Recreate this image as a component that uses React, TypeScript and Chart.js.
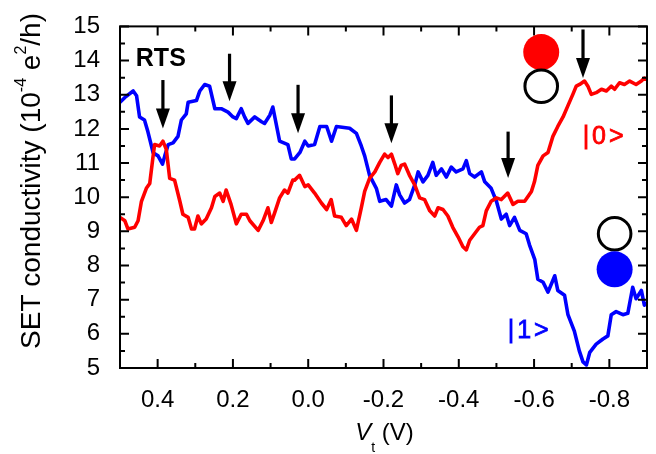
import React, { useEffect, useRef } from "react";
import { Chart, registerables } from "chart.js";

Chart.register(...registerables);

// ---------- data ----------
const blueX = [
  0.5, 0.487, 0.465, 0.456, 0.448, 0.435, 0.426, 0.412, 0.399, 0.387, 0.381, 0.372, 0.359, 0.346,
  0.337, 0.324, 0.319, 0.297, 0.288, 0.275, 0.262, 0.248, 0.231, 0.213, 0.2, 0.191, 0.178, 0.169,
  0.16, 0.142, 0.124, 0.116, 0.102, 0.094, 0.076, 0.054, 0.045, 0.036, 0.022, 0.009, 0.0, -0.017,
  -0.031, -0.049, -0.062, -0.075, -0.11, -0.128, -0.141, -0.15, -0.163, -0.181, -0.19, -0.207,
  -0.221, -0.234, -0.243, -0.256, -0.269, -0.283, -0.292, -0.305, -0.318, -0.331, -0.34, -0.354,
  -0.367, -0.38, -0.393, -0.411, -0.42, -0.429, -0.442, -0.46, -0.469, -0.486, -0.5, -0.513,
  -0.526, -0.535, -0.548, -0.562, -0.579, -0.588, -0.602, -0.61, -0.624, -0.637, -0.655, -0.663,
  -0.681, -0.69, -0.707, -0.72, -0.73, -0.739, -0.748, -0.765, -0.783, -0.796, -0.805, -0.818,
  -0.836, -0.849, -0.862, -0.871, -0.885, -0.893, -0.9,
];
const blueY = [
  12.78, 12.92, 13.11, 12.97, 12.35, 12.26, 11.92, 11.3, 11.21, 10.97, 11.21, 11.54, 11.59, 11.78,
  12.26, 12.44, 12.78, 12.83, 13.11, 13.3, 13.25, 12.59, 12.59, 12.49, 12.35, 12.3, 12.59, 12.35,
  12.16, 12.35, 12.21, 12.16, 12.4, 12.64, 11.64, 11.54, 11.12, 11.12, 11.31, 11.64, 11.5, 11.54,
  12.07, 12.07, 11.64, 12.07, 12.02, 11.87, 11.5, 11.21, 10.64, 10.26, 9.88, 9.93,
  9.74, 10.36, 10.07, 9.83, 9.93, 10.36, 10.74, 10.45, 10.64, 11.02, 10.64, 10.83,
  10.59, 10.88, 10.74, 10.83, 11.07, 10.69, 10.59, 10.74, 10.45, 10.26, 9.88, 9.36,
  9.5, 9.17, 9.41, 9.03, 8.93, 8.6, 8.17, 7.6, 7.51, 7.22, 7.7, 7.27,
  7.13, 6.56, 6.08, 5.51, 5.18, 5.09, 5.46, 5.7, 5.85, 5.94, 6.56, 6.65,
  6.56, 6.6, 7.36, 7.03, 7.27, 6.84, 6.9,
];
const redX = [
  0.5, 0.487, 0.479, 0.461, 0.452, 0.443, 0.43, 0.421, 0.412, 0.408, 0.395, 0.386, 0.377, 0.368,
  0.355, 0.341, 0.333, 0.319, 0.31, 0.302, 0.293, 0.284, 0.271, 0.257, 0.248, 0.235, 0.226, 0.218,
  0.205, 0.191, 0.178, 0.164, 0.155, 0.133, 0.12, 0.107, 0.098, 0.089, 0.076, 0.063, 0.054, 0.041,
  0.036, 0.023, 0.009, 0.0, -0.017, -0.035, -0.049, -0.061, -0.07, -0.088, -0.101, -0.115, -0.128,
  -0.141, -0.15, -0.163, -0.177, -0.19, -0.203, -0.212, -0.221, -0.23, -0.238, -0.247, -0.256,
  -0.269, -0.283, -0.296, -0.309, -0.323, -0.336, -0.345, -0.358, -0.371, -0.384, -0.398, -0.411,
  -0.42, -0.429, -0.442, -0.455, -0.464, -0.473, -0.486, -0.5, -0.513, -0.53, -0.544, -0.557,
  -0.575, -0.593, -0.601, -0.61, -0.624, -0.637, -0.65, -0.663, -0.677, -0.69, -0.703, -0.712,
  -0.721, -0.734, -0.743, -0.752, -0.765, -0.779, -0.792, -0.805, -0.814, -0.827, -0.84, -0.854,
  -0.871, -0.885, -0.893, -0.9,
];
const redY = [
  9.41, 9.31, 9.07, 9.12, 9.31, 9.88, 10.26, 10.4, 11.21, 11.54, 11.5, 11.64, 11.4, 10.55,
  10.5, 9.88, 9.5, 9.41, 9.07, 9.07, 9.45, 9.22, 9.36, 9.69, 10.02, 10.12, 9.88, 10.21,
  9.79, 9.22, 9.5, 9.5, 9.31, 9.03, 9.31, 9.69, 9.26, 9.55, 9.98, 10.21, 10.12, 10.5,
  10.5, 10.64, 10.31, 10.36, 10.12, 9.83, 9.64, 9.93, 9.45, 9.41, 9.17, 9.36, 9.03,
  9.69, 10.17, 10.55, 10.74, 11.02, 11.26, 11.16, 11.26, 10.97, 10.69, 10.93, 10.97,
  10.64, 10.36, 9.98, 9.93, 9.6, 9.45, 9.69, 9.64, 9.45, 9.12, 8.84, 8.55,
  8.46, 8.74, 8.93, 9.12, 9.17, 9.6, 9.88, 9.98, 9.93, 10.12, 9.79, 9.88,
  9.88, 10.17, 10.45, 10.93, 11.21, 11.31, 11.78, 12.07, 12.35, 12.68, 13.01, 13.25,
  13.3, 13.4, 13.25, 13.01, 13.06, 13.16, 13.11, 13.25, 13.16, 13.35, 13.3, 13.4,
  13.3, 13.4, 13.49, 13.45,
];

const xMajorTicks = [0.4, 0.2, 0.0, -0.2, -0.4, -0.6, -0.8];
const xMinorTicks = [0.3, 0.1, -0.1, -0.3, -0.5, -0.7];
const yMajorTicks = [5, 6, 7, 8, 9, 10, 11, 12, 13, 14, 15];
const yMinorTicks = [5.5, 6.5, 7.5, 8.5, 9.5, 10.5, 11.5, 12.5, 13.5, 14.5];

// arrows marking RTS positions (x, top of shaft, tip)
const arrowX = [0.386, 0.209, 0.027, -0.221, -0.531, -0.73];
const arrowTop = [13.43, 14.2, 13.29, 12.98, 11.92, 14.91];
const arrowTip = [12.01, 12.81, 11.87, 11.58, 10.56, 13.49];

const FONT = "'Liberation Sans', Arial, Helvetica, sans-serif";

const overlayPlugin = {
  id: "overlay",
  afterDraw(chart: any) {
    const { ctx, chartArea: a, scales } = chart;
    const xs = scales.x;
    const ys = scales.y;
    const X = (v: number) => xs.getPixelForValue(v);
    const Y = (v: number) => ys.getPixelForValue(v);
    ctx.save();

    // inside tick marks on all four sides
    ctx.strokeStyle = "#000";
    ctx.lineWidth = 2;
    const tickX = (vals: number[], len: number) => {
      vals.forEach((v) => {
        const p = X(v);
        ctx.beginPath();
        ctx.moveTo(p, a.bottom);
        ctx.lineTo(p, a.bottom - len);
        ctx.moveTo(p, a.top);
        ctx.lineTo(p, a.top + len);
        ctx.stroke();
      });
    };
    const tickY = (vals: number[], len: number) => {
      vals.forEach((v) => {
        const p = Y(v);
        ctx.beginPath();
        ctx.moveTo(a.left, p);
        ctx.lineTo(a.left + len, p);
        ctx.moveTo(a.right, p);
        ctx.lineTo(a.right - len, p);
        ctx.stroke();
      });
    };
    tickX(xMajorTicks, 9);
    tickX(xMinorTicks, 5);
    tickY(yMajorTicks, 9);
    tickY(yMinorTicks, 5);

    // frame
    ctx.strokeRect(a.left, a.top, a.right - a.left, a.bottom - a.top);

    // arrows
    ctx.fillStyle = "#000";
    arrowX.forEach((xv, i) => {
      const px = X(xv);
      const top = Y(arrowTop[i]);
      const tip = Y(arrowTip[i]);
      const head = 20;
      ctx.lineWidth = 3.2;
      ctx.beginPath();
      ctx.moveTo(px, top);
      ctx.lineTo(px, tip - head + 2);
      ctx.stroke();
      ctx.beginPath();
      ctx.moveTo(px - 7, tip - head);
      ctx.lineTo(px + 7, tip - head);
      ctx.lineTo(px, tip);
      ctx.closePath();
      ctx.fill();
    });

    // state circles
    const disc = (xv: number, yv: number, color: string) => {
      ctx.beginPath();
      ctx.arc(X(xv), Y(yv), 18, 0, Math.PI * 2);
      ctx.fillStyle = color;
      ctx.fill();
    };
    const ring = (xv: number, yv: number) => {
      ctx.beginPath();
      ctx.arc(X(xv), Y(yv), 16.3, 0, Math.PI * 2);
      ctx.lineWidth = 3;
      ctx.strokeStyle = "#000";
      ctx.stroke();
    };
    disc(-0.619, 14.25, "#ff0000");
    ring(-0.619, 13.25);
    ring(-0.814, 8.93);
    disc(-0.814, 7.89, "#0000ff");

    // labels
    ctx.textBaseline = "alphabetic";
    ctx.textAlign = "left";
    ctx.fillStyle = "#000";
    ctx.font = `bold 25px ${FONT}`;
    ctx.fillText("RTS", X(0.458), Y(13.83));
    ctx.font = `25px ${FONT}`;
    try {
      (ctx as any).letterSpacing = "3px";
    } catch (e) {}
    ctx.lineWidth = 0.8;
    ctx.fillStyle = "#ff0000";
    ctx.strokeStyle = "#ff0000";
    ctx.fillText("|0>", X(-0.729), Y(11.55));
    ctx.strokeText("|0>", X(-0.729), Y(11.55));
    ctx.fillStyle = "#0000ff";
    ctx.strokeStyle = "#0000ff";
    ctx.fillText("|1>", X(-0.53), Y(5.88));
    ctx.strokeText("|1>", X(-0.53), Y(5.88));
    try {
      (ctx as any).letterSpacing = "0px";
    } catch (e) {}

    // y axis title with superscripts
    ctx.fillStyle = "#000";
    const segs: [string, boolean][] = [
      ["SET conductivity (10", false],
      ["-4", true],
      [" e", false],
      ["2", true],
      ["/h)", false],
    ];
    const big = `28px ${FONT}`;
    const small = `16px ${FONT}`;
    let total = 0;
    segs.forEach(([t, sup]) => {
      ctx.font = sup ? small : big;
      total += ctx.measureText(t).width;
    });
    ctx.save();
    ctx.translate(40, 181);
    ctx.rotate(-Math.PI / 2);
    let cx = -total / 2;
    segs.forEach(([t, sup]) => {
      ctx.font = sup ? small : big;
      ctx.fillText(t, cx, sup ? -14 : 0);
      cx += ctx.measureText(t).width;
    });
    ctx.restore();

    // x axis title: V_t (V)
    const xsegs: [string, string, number][] = [
      ["V", `italic 24px ${FONT}`, 0],
      ["t", `14px ${FONT}`, 12],
      [" (V)", `24px ${FONT}`, 0],
    ];
    let xt = 0;
    xsegs.forEach(([t, f]) => {
      ctx.font = f;
      xt += ctx.measureText(t).width;
    });
    let sx = (a.left + a.right) / 2 - xt / 2 + 1;
    xsegs.forEach(([t, f, dy]) => {
      ctx.font = f;
      ctx.fillText(t, sx, 440 + dy);
      sx += ctx.measureText(t).width;
    });

    ctx.restore();
  },
};

export default function App() {
  const ref = useRef<HTMLCanvasElement | null>(null);
  useEffect(() => {
    if (!ref.current) return;
    const red = redX.map((x, i) => ({ x, y: redY[i] }));
    const blue = blueX.map((x, i) => ({ x, y: blueY[i] }));
    const chart = new Chart(ref.current, {
      type: "line",
      data: {
        datasets: [
          {
            label: "|0>",
            data: red,
            borderColor: "#ff0000",
            borderWidth: 3.6,
            pointRadius: 0,
            tension: 0,
            borderJoinStyle: "round",
            borderCapStyle: "round",
          },
          {
            label: "|1>",
            data: blue,
            borderColor: "#0000ff",
            borderWidth: 3.6,
            pointRadius: 0,
            tension: 0,
            borderJoinStyle: "round",
            borderCapStyle: "round",
          },
        ],
      },
      options: {
        animation: false,
        responsive: false,
        devicePixelRatio: 1,
        layout: { padding: { top: 17, right: 9, bottom: 0, left: 0 } },
        plugins: {
          legend: { display: false },
          tooltip: { enabled: false },
        },
        scales: {
          x: {
            type: "linear",
            min: -0.9,
            max: 0.5,
            reverse: true,
            grid: { display: false },
            border: { display: false },
            afterBuildTicks: (s: any) => {
              s.ticks = xMajorTicks.map((v) => ({ value: v }));
            },
            afterFit: (s: any) => {
              s.height = 86;
            },
            ticks: {
              padding: 10,
              maxRotation: 0,
              autoSkip: false,
              color: "#000",
              font: { family: FONT, size: 24 },
              callback: (v: any) => Number(v).toFixed(1),
            },
          },
          y: {
            type: "linear",
            min: 5,
            max: 15,
            grid: { display: false },
            border: { display: false },
            afterBuildTicks: (s: any) => {
              s.ticks = yMajorTicks.map((v) => ({ value: v }));
            },
            afterFit: (s: any) => {
              s.width = 120;
            },
            ticks: {
              padding: 12,
              autoSkip: false,
              color: "#000",
              font: { family: FONT, size: 24 },
              callback: (v: any) => String(v),
            },
          },
        },
      },
      plugins: [overlayPlugin],
    });
    return () => chart.destroy();
  }, []);
  return (
    <div style={{ position: "absolute", left: 0, top: 0, width: 656, height: 454, background: "#fff" }}>
      <canvas ref={ref} width={656} height={454} style={{ display: "block" }} />
    </div>
  );
}
